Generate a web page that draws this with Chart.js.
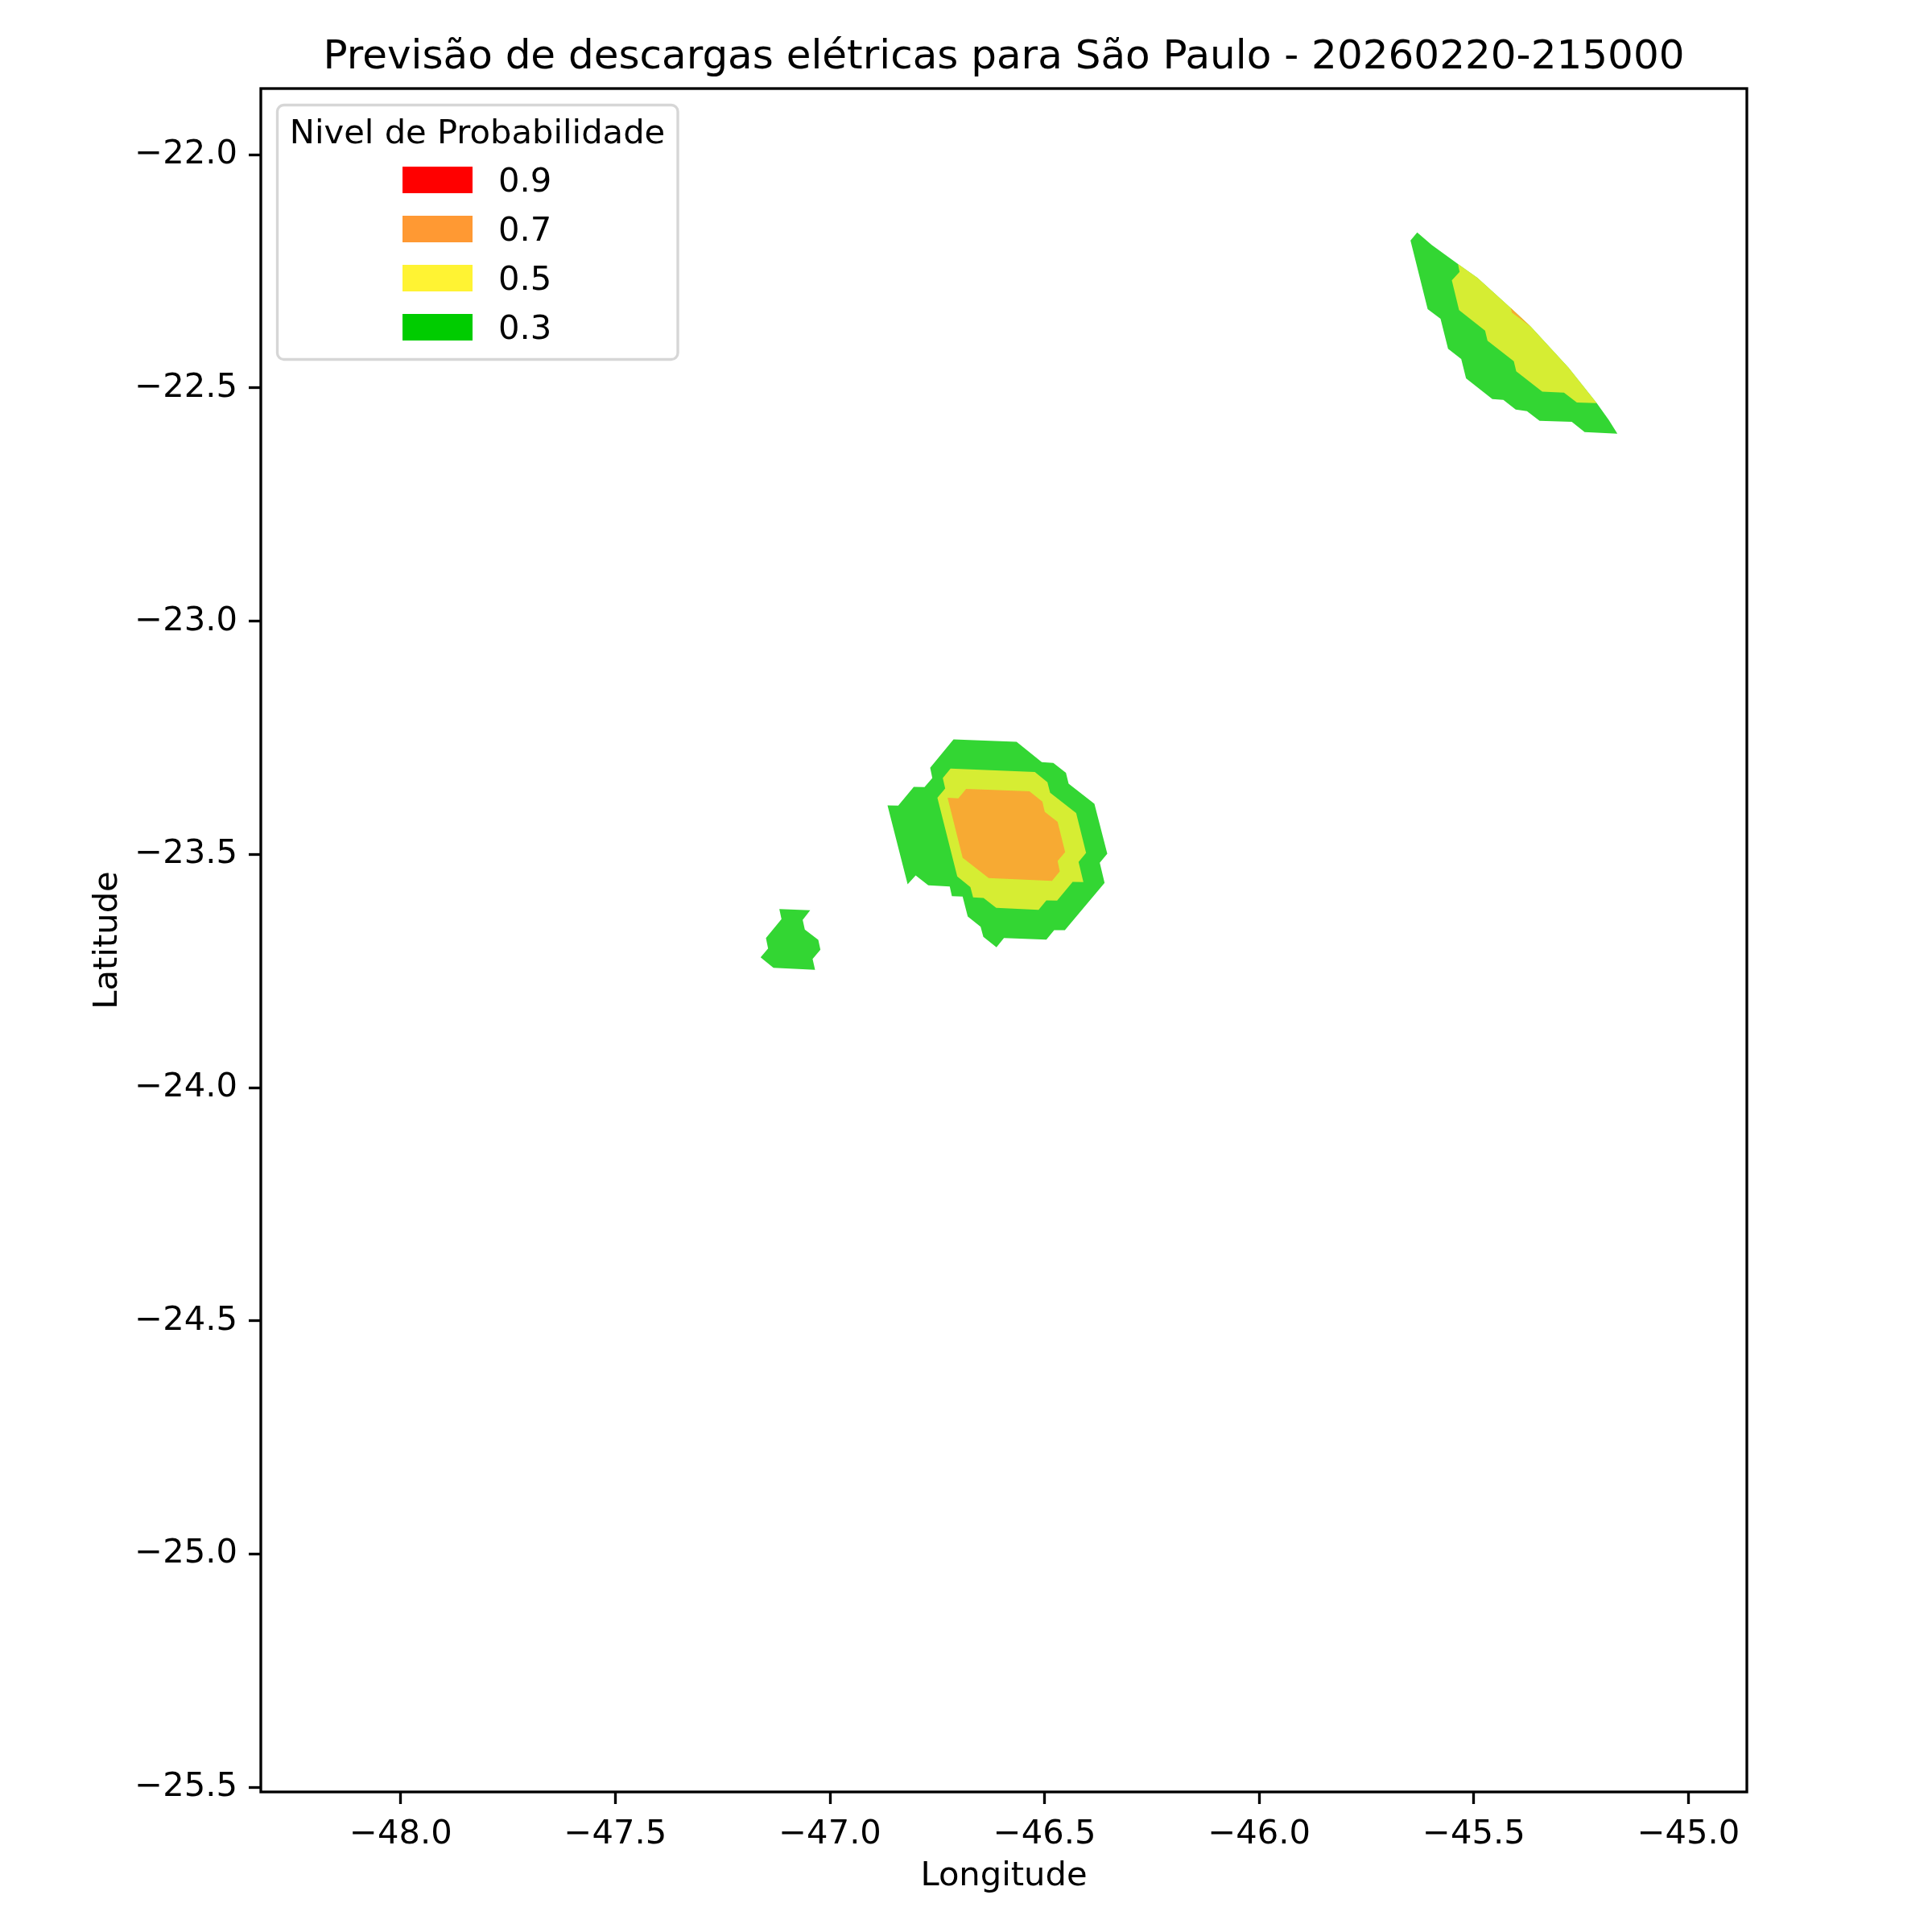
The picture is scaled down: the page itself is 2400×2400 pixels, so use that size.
<!DOCTYPE html>
<html>
<head>
<meta charset="utf-8">
<title>Previsão de descargas elétricas</title>
<script src="https://cdn.jsdelivr.net/npm/chart.js@4/dist/chart.umd.min.js"></script>
<style>
  html, body { margin: 0; padding: 0; background: #fff; }
  canvas { display: block; }
</style>
</head>
<body>
<canvas id="mapa" width="2400" height="2400"></canvas>
<script>
const xTicks = [-48, -47.5, -47, -46.5, -46, -45.5, -45]
const yTicks = [-22, -22.5, -23, -23.5, -24, -24.5, -25, -25.5]

const niveis = ['0.9', '0.7', '0.5', '0.3']
const coresLegenda = ['#ff0000', '#ff9933', '#fff333', '#00cc00']

// contorno 0.3
const lonVerdeCentro = [-46.7122,-46.5653,-46.5066,-46.4797,-46.4503,-46.4441,-46.3840,-46.3540,-46.3715,-46.3603,-46.4528,-46.4778,-46.4959,-46.5947,-46.6122,-46.6428,-46.6491,-46.6791,-46.6910,-46.7160,-46.7210,-46.7710,-46.8004,-46.8191,-46.8660,-46.8410,-46.8048,-46.7798,-46.7616,-46.7666]
const latVerdeCentro = [-23.2533,-23.2585,-23.3022,-23.3039,-23.3252,-23.3482,-23.3914,-23.4984,-23.5180,-23.5611,-23.6624,-23.6624,-23.6825,-23.6791,-23.6992,-23.6768,-23.6549,-23.6331,-23.5905,-23.5893,-23.5686,-23.5663,-23.5450,-23.5640,-23.3948,-23.3954,-23.3551,-23.3557,-23.3361,-23.3143]
const lonVerdeOeste = [-47.1180,-47.0461,-47.0636,-47.0586,-47.0273,-47.0223,-47.0405,-47.0348,-47.1317,-47.1617,-47.1442,-47.1492,-47.1130]
const latVerdeOeste = [-23.6170,-23.6198,-23.6405,-23.6613,-23.6831,-23.7044,-23.7240,-23.7476,-23.7430,-23.7205,-23.7015,-23.6791,-23.6388]
const lonVerdeLeste = [-45.6320,-45.5982,-45.5369,-45.4919,-45.4138,-45.3669,-45.2794,-45.2137,-45.1856,-45.1656,-45.2419,-45.2719,-45.3469,-45.3763,-45.4025,-45.4313,-45.4569,-45.5182,-45.5294,-45.5601,-45.5776,-45.6076,-45.6476]
const latVerdeLeste = [-22.1663,-22.1934,-22.2342,-22.2636,-22.3286,-22.3689,-22.4564,-22.5323,-22.5686,-22.5979,-22.5945,-22.5726,-22.5703,-22.5496,-22.5461,-22.5254,-22.5237,-22.4794,-22.4379,-22.4161,-22.3516,-22.3309,-22.1836]

// contorno 0.5
const lonAmareloCentro = [-46.7191,-46.5228,-46.4934,-46.4872,-46.4265,-46.4034,-46.4209,-46.4097,-46.4347,-46.4709,-46.4959,-46.5141,-46.6128,-46.6422,-46.6666,-46.6729,-46.7035,-46.7498,-46.7316,-46.7372]
const latAmareloCentro = [-23.3160,-23.3235,-23.3454,-23.3678,-23.4115,-23.4967,-23.5163,-23.5594,-23.5588,-23.5991,-23.5985,-23.6187,-23.6146,-23.5934,-23.5922,-23.5703,-23.5473,-23.3787,-23.3586,-23.3361]
const lonAmareloLeste = [-45.5369,-45.5332,-45.5513,-45.5344,-45.4738,-45.4682,-45.4069,-45.4013,-45.3406,-45.2900,-45.2600,-45.2137,-45.2794,-45.3669,-45.4138,-45.4919]
const latAmareloLeste = [-22.2342,-22.2509,-22.2693,-22.3332,-22.3769,-22.3988,-22.4425,-22.4644,-22.5076,-22.5099,-22.5312,-22.5323,-22.4564,-22.3689,-22.3286,-22.2636]

// contorno 0.7
const lonLaranjaCentro = [-46.6829,-46.5353,-46.5053,-46.4997,-46.4697,-46.4522,-46.4697,-46.4647,-46.4828,-46.6303,-46.6910,-46.7260,-46.7010]
const latLaranjaCentro = [-23.3597,-23.3649,-23.3868,-23.4087,-23.4305,-23.4950,-23.5139,-23.5364,-23.5565,-23.5508,-23.5070,-23.3787,-23.3799]
const lonLaranjaLeste = [-45.4138,-45.3669,-45.3900,-45.4113]
const latLaranjaLeste = [-22.3286,-22.3689,-22.3528,-22.3384]

const corVerde = 'rgba(0, 204, 0, 0.8)'
const corAmarelo = 'rgba(255, 243, 51, 0.8)'
const corLaranja = 'rgba(255, 153, 51, 0.8)'

function poligono(lons, lats, cor) {
    return {
        data: lons.map((lon, i) => ({ x: lon, y: lats[i] })),
        showLine: true,
        fill: 'shape',
        backgroundColor: cor,
        borderWidth: 0,
        borderColor: 'rgba(0,0,0,0)',
        pointRadius: 0,
        tension: 0,
    }
}

const fonte = 'DejaVu Sans'

// moldura dos quatro lados
const moldura = {
    id: 'moldura',
    afterDatasetsDraw(chart) {
        const { ctx, chartArea: a } = chart
        ctx.save()
        ctx.strokeStyle = '#000'
        ctx.lineWidth = 3.33
        ctx.strokeRect(a.left, a.top, a.right - a.left, a.bottom - a.top)
        ctx.restore()
    }
}

// legenda no canto superior esquerdo
const legenda = {
    id: 'legenda',
    afterDraw(chart) {
        const { ctx } = chart
        ctx.save()
        ctx.fillStyle = 'rgba(255,255,255,0.8)'
        ctx.strokeStyle = 'rgb(214,214,214)'
        ctx.lineWidth = 3.33
        ctx.beginPath()
        ctx.roundRect(344.5, 130.5, 497.5, 316, 8)
        ctx.fill()
        ctx.stroke()
        ctx.fillStyle = '#000'
        ctx.font = '41.67px "' + fonte + '"'
        ctx.textAlign = 'center'
        ctx.textBaseline = 'alphabetic'
        ctx.fillText('Nivel de Probabilidade', 593, 178)
        ctx.textAlign = 'left'
        niveis.forEach((nivel, i) => {
            const y = 207 + i * 61
            ctx.fillStyle = coresLegenda[i]
            ctx.fillRect(500, y, 87, 33)
            ctx.fillStyle = '#000'
            ctx.fillText(nivel, 619, y + 31)
        })
        ctx.restore()
    }
}

const rotulo = v => v.toFixed(1).replace('-', '\u2212')

new Chart(document.getElementById('mapa').getContext('2d'), {
    type: 'scatter',
    data: {
        datasets: [
            poligono(lonLaranjaCentro, latLaranjaCentro, corLaranja),
            poligono(lonLaranjaLeste, latLaranjaLeste, corLaranja),
            poligono(lonAmareloCentro, latAmareloCentro, corAmarelo),
            poligono(lonAmareloLeste, latAmareloLeste, corAmarelo),
            poligono(lonVerdeCentro, latVerdeCentro, corVerde),
            poligono(lonVerdeOeste, latVerdeOeste, corVerde),
            poligono(lonVerdeLeste, latVerdeLeste, corVerde),
        ]
    },
    options: {
        responsive: false,
        devicePixelRatio: 1,
        animation: false,
        layout: { padding: { left: 0, right: 230, top: 0, bottom: 0 } },
        plugins: {
            legend: { display: false },
            tooltip: { enabled: false },
            title: {
                display: true,
                fullSize: false,
                text: 'Previsão de descargas elétricas para São Paulo - 20260220-215000',
                color: '#000',
                font: { family: fonte, size: 50, weight: 'normal', lineHeight: 1 },
                padding: { top: 47, bottom: 13 },
            },
        },
        scales: {
            x: {
                type: 'linear',
                min: -48.326,
                max: -44.864,
                afterFit: s => { s.height = 174 },
                afterBuildTicks: s => { s.ticks = xTicks.map(v => ({ value: v })) },
                border: { display: false },
                grid: { drawOnChartArea: false, drawTicks: true, tickLength: 15, tickWidth: 3.33, tickColor: '#000' },
                ticks: { color: '#000', padding: 13, maxRotation: 0, font: { family: fonte, size: 41.67 }, callback: rotulo },
                title: { display: true, text: 'Longitude', color: '#000', font: { family: fonte, size: 41.67 }, padding: { top: 0, bottom: 44 } },
            },
            y: {
                type: 'linear',
                min: -25.51,
                max: -21.858,
                afterFit: s => { s.width = 324 },
                afterBuildTicks: s => { s.ticks = yTicks.map(v => ({ value: v })) },
                border: { display: false },
                grid: { drawOnChartArea: false, drawTicks: true, tickLength: 15, tickWidth: 3.33, tickColor: '#000' },
                ticks: { color: '#000', padding: 14, font: { family: fonte, size: 41.67 }, callback: rotulo },
                title: { display: true, text: 'Latitude', color: '#000', font: { family: fonte, size: 41.67 }, padding: { top: 109, bottom: 0 } },
            },
        },
    },
    plugins: [moldura, legenda],
})
</script>
</body>
</html>
